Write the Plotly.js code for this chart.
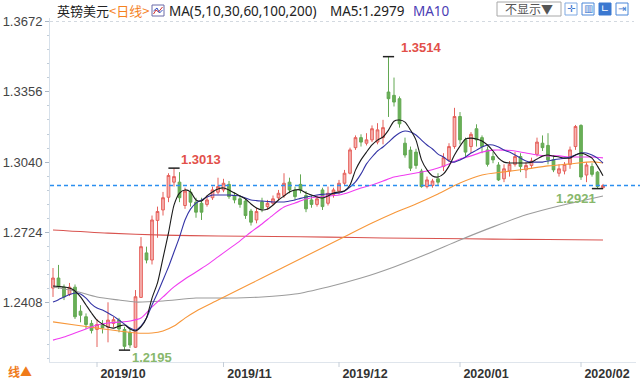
<!DOCTYPE html>
<html><head><meta charset="utf-8">
<script src="https://cdn.plot.ly/plotly-3.0.1.min.js"></script>
<style>html,body{margin:0;padding:0;background:#fff}#chart{width:640px;height:380px}</style>
</head><body><div id="chart"></div>
<script>
// ---- data ----
const dates = [
 '2019-09-19','2019-09-20','2019-09-23','2019-09-24','2019-09-25','2019-09-26','2019-09-27','2019-09-30',
 '2019-10-01','2019-10-02','2019-10-03','2019-10-04','2019-10-07','2019-10-08','2019-10-09','2019-10-10','2019-10-11','2019-10-14','2019-10-15','2019-10-16','2019-10-17','2019-10-18','2019-10-21','2019-10-22','2019-10-23','2019-10-24','2019-10-25','2019-10-28','2019-10-29','2019-10-30','2019-10-31',
 '2019-11-01','2019-11-04','2019-11-05','2019-11-06','2019-11-07','2019-11-08','2019-11-11','2019-11-12','2019-11-13','2019-11-14','2019-11-15','2019-11-18','2019-11-19','2019-11-20','2019-11-21','2019-11-22','2019-11-25','2019-11-26','2019-11-27','2019-11-28','2019-11-29',
 '2019-12-02','2019-12-03','2019-12-04','2019-12-05','2019-12-06','2019-12-09','2019-12-10','2019-12-11','2019-12-12','2019-12-13','2019-12-16','2019-12-17','2019-12-18','2019-12-19','2019-12-20','2019-12-23','2019-12-24','2019-12-25','2019-12-26','2019-12-27','2019-12-30','2019-12-31',
 '2020-01-02','2020-01-03','2020-01-06','2020-01-07','2020-01-08','2020-01-09','2020-01-10','2020-01-13','2020-01-14','2020-01-15','2020-01-16','2020-01-17','2020-01-20','2020-01-21','2020-01-22','2020-01-23','2020-01-24','2020-01-27','2020-01-28','2020-01-29','2020-01-30','2020-01-31',
 '2020-02-03','2020-02-04','2020-02-05','2020-02-06','2020-02-07'];

const open = [1.2474,1.2519,1.2478,1.2445,1.2478,1.2370,1.2345,1.2315,1.2288,1.2312,
 1.2298,1.2315,1.2330,1.2288,1.2275,1.2208,1.2432,1.2632,1.2600,1.2778,
 1.2825,1.2882,1.2950,1.2950,1.2845,1.2905,1.2860,1.2855,1.2850,1.2880,
 1.2905,1.2915,1.2940,1.2890,1.2875,1.2865,1.2820,1.2780,1.2862,1.2840,
 1.2855,1.2880,1.2890,1.2950,1.2915,1.2940,1.2890,1.2870,1.2850,1.2915,
 1.2855,1.2895,1.2910,1.2945,1.2990,1.3105,1.3150,1.3125,1.3140,1.3130,
 1.3150,1.3355,1.3340,1.3325,1.3125,1.3094,1.3085,1.3000,1.2930,1.2935,
 1.2965,1.3020,1.3050,1.3110,1.3245,1.3140,1.3110,1.3190,1.3150,1.3095,
 1.3065,1.3027,1.2965,1.3000,1.3030,1.3065,1.3005,1.3025,1.3075,1.3125,
 1.3115,1.3050,1.2990,1.3000,1.3030,1.3110,1.3205,1.2982,1.3020,1.2995,
 1.2925];
const high = [1.2564,1.2578,1.2490,1.2497,1.2490,1.2397,1.2360,1.2330,1.2335,1.2330,
 1.2410,1.2345,1.2340,1.2300,1.2290,1.2465,1.2703,1.2660,1.2800,1.2840,
 1.2906,1.2990,1.3013,1.2995,1.2925,1.2920,1.2880,1.2880,1.2890,1.2930,
 1.2970,1.2965,1.2955,1.2905,1.2890,1.2875,1.2830,1.2835,1.2880,1.2870,
 1.2890,1.2915,1.2990,1.2970,1.2930,1.2985,1.2910,1.2890,1.2890,1.2925,
 1.2930,1.2925,1.2960,1.3005,1.3105,1.3160,1.3165,1.3170,1.3205,1.3215,
 1.3230,1.3514,1.3420,1.3335,1.3150,1.3110,1.3100,1.3010,1.2975,1.2965,
 1.2990,1.3080,1.3125,1.3284,1.3265,1.3150,1.3175,1.3210,1.3160,1.3110,
 1.3085,1.3040,1.3030,1.3045,1.3085,1.3080,1.3040,1.3060,1.3150,1.3160,
 1.3170,1.3070,1.3030,1.3040,1.3110,1.3207,1.3210,1.3040,1.3035,1.3000,
 1.2942];
const low = [1.2434,1.2470,1.2420,1.2438,1.2335,1.2320,1.2290,1.2270,1.2209,1.2270,
 1.2230,1.2298,1.2275,1.2195,1.2205,1.2205,1.2430,1.2585,1.2580,1.2700,
 1.2800,1.2860,1.2930,1.2860,1.2830,1.2840,1.2790,1.2780,1.2840,1.2870,
 1.2895,1.2905,1.2875,1.2855,1.2835,1.2785,1.2755,1.2765,1.2815,1.2825,
 1.2845,1.2870,1.2880,1.2900,1.2870,1.2900,1.2815,1.2835,1.2840,1.2825,
 1.2845,1.2880,1.2895,1.2935,1.2985,1.3095,1.3110,1.3115,1.3130,1.3120,
 1.3120,1.3243,1.3290,1.3195,1.3060,1.3000,1.3010,1.2925,1.2922,1.2925,
 1.2935,1.3000,1.3040,1.3100,1.3120,1.3060,1.3080,1.3110,1.3080,1.3020,
 1.3035,1.2955,1.2950,1.2975,1.3020,1.2995,1.2968,1.3010,1.3065,1.3090,
 1.3030,1.2995,1.2975,1.2985,1.3010,1.3095,1.2960,1.2950,1.2975,1.2921,
 1.2922];
const close = [1.2519,1.2480,1.2434,1.2478,1.2345,1.2352,1.2310,1.2283,1.2310,1.2295,
 1.2330,1.2332,1.2290,1.2212,1.2218,1.2435,1.2660,1.2600,1.2780,1.2818,
 1.2880,1.2980,1.2975,1.2880,1.2910,1.2860,1.2815,1.2815,1.2870,1.2915,
 1.2930,1.2945,1.2885,1.2870,1.2850,1.2800,1.2770,1.2818,1.2830,1.2855,
 1.2875,1.2900,1.2945,1.2915,1.2885,1.2915,1.2830,1.2850,1.2875,1.2840,
 1.2900,1.2915,1.2945,1.2990,1.3095,1.3150,1.3130,1.3140,1.3190,1.3185,
 1.3195,1.3325,1.3310,1.3212,1.3072,1.3013,1.3025,1.2930,1.2960,1.2955,
 1.2950,1.3060,1.3110,1.3245,1.3140,1.3085,1.3165,1.3140,1.3110,1.3030,
 1.3050,1.2960,1.3010,1.3030,1.3065,1.3020,1.3025,1.3045,1.3130,1.3105,
 1.3050,1.3005,1.3010,1.3030,1.3095,1.3200,1.2973,1.3027,1.2985,1.2930,
 1.2935];

const ma5 = [1.2483,1.2481,1.2479,1.2474,1.2461,1.2434,1.2398,1.2362,1.2330,1.2312,
 1.2299,1.2294,1.2303,1.2308,1.2290,1.2281,1.2299,1.2339,1.2429,1.2497,
 1.2609,1.2722,1.2847,1.2901,1.2915,1.2906,1.2870,1.2865,1.2888,1.2906,
 1.2919,1.2924,1.2915,1.2901,1.2888,1.2874,1.2852,1.2834,1.2825,1.2829,
 1.2847,1.2870,1.2888,1.2906,1.2915,1.2915,1.2901,1.2892,1.2883,1.2879,
 1.2888,1.2901,1.2906,1.2910,1.2937,1.3004,1.3050,1.3085,1.3117,1.3139,
 1.3153,1.3184,1.3224,1.3229,1.3220,1.3184,1.3139,1.3050,1.3005,1.2978,
 1.2973,1.2987,1.3022,1.3072,1.3112,1.3144,1.3148,1.3144,1.3135,1.3117,
 1.3090,1.3058,1.3040,1.3036,1.3036,1.3036,1.3036,1.3040,1.3054,1.3067,
 1.3072,1.3067,1.3063,1.3058,1.3058,1.3072,1.3081,1.3072,1.3058,1.3022,
 1.2979];
const ma10 = [1.2411,1.2422,1.2434,1.2445,1.2452,1.2447,1.2429,1.2402,1.2384,1.2375,
 1.2362,1.2348,1.2330,1.2312,1.2294,1.2285,1.2303,1.2339,1.2398,1.2452,
 1.2510,1.2569,1.2636,1.2703,1.2780,1.2829,1.2856,1.2870,1.2883,1.2892,
 1.2892,1.2892,1.2892,1.2890,1.2888,1.2879,1.2870,1.2867,1.2865,1.2863,
 1.2861,1.2861,1.2861,1.2865,1.2870,1.2877,1.2883,1.2888,1.2892,1.2895,
 1.2897,1.2899,1.2901,1.2910,1.2928,1.2951,1.2987,1.3032,1.3063,1.3090,
 1.3108,1.3130,1.3153,1.3171,1.3180,1.3175,1.3162,1.3139,1.3117,1.3099,
 1.3076,1.3063,1.3045,1.3040,1.3050,1.3063,1.3081,1.3094,1.3108,1.3117,
 1.3117,1.3108,1.3094,1.3085,1.3072,1.3058,1.3045,1.3040,1.3040,1.3040,
 1.3045,1.3050,1.3054,1.3058,1.3063,1.3072,1.3081,1.3081,1.3072,1.3058,
 1.3036];
const _ = null;
const ma30 = [1.2240,_,1.2254,_,1.2272,_,1.2290,_,1.2308,_,
 1.2317,_,1.2321,_,1.2326,_,1.2339,_,1.2389,_,
 1.2434,_,1.2479,_,1.2515,_,1.2546,_,1.2578,_,
 1.2614,_,1.2650,_,1.2686,_,1.2726,_,1.2762,_,
 1.2802,_,1.2838,_,1.2856,_,1.2874,_,1.2883,_,
 1.2888,_,1.2892,_,1.2906,_,1.2924,_,1.2937,_,
 1.2955,_,1.2973,_,1.2982,_,1.2991,_,1.3000,_,
 1.3014,_,1.3032,_,1.3054,_,1.3068,_,1.3085,_,
 1.3094,_,1.3094,_,1.3090,_,1.3081,_,1.3072,_,
 1.3068,_,1.3068,_,1.3063,_,1.3063,_,1.3063,_,
 1.3059];
const ma60 = [1.2322,_,_,_,1.2308,_,_,_,1.2294,_,
 _,_,1.2281,_,_,1.2272,_,_,1.2272,_,
 1.2281,_,1.2303,_,1.2339,_,1.2370,_,_,_,
 1.2420,_,_,_,1.2470,_,_,_,1.2519,_,
 _,_,1.2569,_,_,_,1.2618,_,_,_,
 1.2667,_,_,_,1.2717,_,_,_,1.2766,_,
 _,_,1.2811,_,_,_,1.2852,_,_,_,
 1.2897,_,_,_,1.2946,_,_,_,1.2982,_,
 _,_,1.2996,_,_,_,1.3009,_,_,_,
 1.3023,_,_,_,1.3032,_,_,_,1.3041,_,
 1.3036];
const ma100 = [1.2479,_,_,_,1.2461,_,_,_,1.2434,_,
 _,_,1.2420,_,_,1.2411,_,_,_,_,
 1.2416,_,_,_,_,_,1.2429,_,_,_,
 _,_,1.2429,_,_,_,_,_,1.2434,_,
 _,_,_,_,1.2447,_,_,_,_,_,
 1.2479,_,_,_,_,_,1.2519,_,_,_,
 _,_,1.2569,_,_,_,_,_,1.2627,_,
 _,_,_,_,1.2690,_,_,_,_,_,
 1.2749,_,_,_,_,_,1.2803,_,_,_,
 _,_,1.2843,_,_,_,1.2865,_,_,_,
 1.2888];
const ma200 = [1.2735,_,_,_,_,_,_,_,_,_,
 1.2721,_,_,_,_,_,_,_,_,_,
 1.2712,_,_,_,_,_,_,_,_,_,
 1.2708,_,_,_,_,_,_,_,_,_,
 1.2706,_,_,_,_,_,_,_,_,_,
 1.2703,_,_,_,_,_,_,_,_,_,
 1.2699,_,_,_,_,_,_,_,_,_,
 1.2697,_,_,_,_,_,_,_,_,_,
 1.2694,_,_,_,_,_,_,_,_,_,
 1.2692,_,_,_,_,_,_,_,_,_,
 1.2690];

const yTick0 = 1.2408, yTickStep = 0.0316;           // 1.2408 ... 1.3672
const xTickDates = ['2019-10-01','2019-11-01','2019-12-02','2020-01-02','2020-02-03'];
const xTickText  = ['2019/10','2019/11','2019/12','2020/01','2020/02'];
const markDates = ['2019-10-21','2019-12-13','2019-10-08','2020-02-06'];
const markKinds = ['high','high','low','low'];
const legendMA5 = 'MA5:1.2979';

// ---- layout geometry ----
const L=50, R=636, T=18, B=362, W=R-L, H=B-T;
const px = x => (x-L)/W;
const py = y => (B-y)/H;

const ma = (y, color, name) => ({type:'scatter', mode:'lines', x:dates, y:y, connectgaps:true,
  line:{color:color, width:1.1, shape:'spline', smoothing:0.7}, hoverinfo:'skip', showlegend:false, name:name});

const traces = [
  {type:'candlestick', x:dates, open:open, high:high, low:low, close:close,
   increasing:{line:{color:'#e5605b', width:1}, fillcolor:'rgba(245,172,168,0.9)'},
   decreasing:{line:{color:'#62a852', width:1}, fillcolor:'#69b058'},
   whiskerwidth:0, hoverinfo:'skip', showlegend:false},
  ma(ma200,'#d9534f','MA200'),
  ma(ma100,'#9c9c9c','MA100'),
  ma(ma60,'#f7973a','MA60'),
  ma(ma30,'#f03cf0','MA30'),
  ma(ma10,'#3434a6','MA10'),
  ma(ma5,'#1a1a1a','MA5')
];

const mx=[], my=[];
const anns = [];
markDates.forEach((d,k)=>{
  const i = dates.indexOf(d);
  const v = markKinds[k]==='high' ? high[i] : low[i];
  mx.push(d); my.push(v);
});
traces.push({type:'scatter', mode:'markers', x:mx, y:my, hoverinfo:'skip', showlegend:false,
  marker:{symbol:'line-ew', size:8, line:{width:1.5, color:'#222'}}});

const markStyle = [
  {xa:'left', xs:5, ys:9, c:'#e2504a'},
  {xa:'left', xs:10, ys:9, c:'#e2504a'},
  {xa:'left', xs:5, ys:-7, c:'#88b86c'},
  {xa:'right', xs:0, ys:-10, c:'#88b86c'}
];
mx.forEach((d,k)=>{
  const s = markStyle[k];
  anns.push({xref:'x', yref:'y', x:d, y:my[k], text:my[k].toFixed(4), showarrow:false,
    xanchor:s.xa, yanchor:'middle', xshift:s.xs, yshift:s.ys,
    font:{family:'Liberation Sans, Arial', size:13, color:s.c, weight:'bold'}});
});

const lastClose = close[close.length-1];

// header row
const hy = py(11);
const hdr = (x, text, color, size, fam) => ({xref:'paper', yref:'paper', x:px(x), y:hy, xanchor:'left', yanchor:'middle',
  text:text, showarrow:false, font:{family:fam||'Noto Sans CJK SC', size:size||13, color:color}});
anns.push(hdr(55,'英镑美元','#222',13));
anns.push(hdr(107,'&lt;日线&gt;','#f5821f',13));
anns.push(hdr(167,'MA(5,10,30,60,100,200)','#222',13.5,'Noto Sans'));
anns.push(hdr(328,legendMA5,'#222',13.5,'Noto Sans'));
anns.push(hdr(411,'MA10','#4a3cb4',13.5,'Noto Sans'));
anns.push({xref:'paper', yref:'paper', x:px(529), y:py(9), xanchor:'center', yanchor:'middle', text:'不显示▼',
  showarrow:false, font:{family:'Noto Sans CJK SC', size:12, color:'#555'}});
anns.push({xref:'paper', yref:'paper', x:px(6), y:py(371), xanchor:'left', yanchor:'middle', text:'线▲',
  showarrow:false, font:{family:'Noto Sans CJK SC', size:12, color:'#f07b1a', weight:'bold'}});

// icon glyphs
const icons = [[565,'#ffffff','#7ea9e2','✛','#3b78d0'],[582,'#ffffff','#4a86d8','▥','#3b78d0'],
               [599,'#3b78d0','#3b78d0','∟','#ffffff'],[616,'#ffffff','#4a86d8','⇥','#3b78d0']];
const shapes = [
  {type:'line', xref:'paper', yref:'y', x0:0, x1:px(640), y0:lastClose, y1:lastClose,
   line:{color:'#2b8ff0', width:1.5, dash:'4px,3px'}},
  {type:'line', xref:'paper', yref:'y', x0:0, x1:px(634), y0:1.3672, y1:1.3672,
   line:{color:'#d3d9e0', width:1, dash:'dot'}},
  {type:'rect', xref:'paper', yref:'paper', x0:px(497), x1:px(561), y0:py(16), y1:py(2),
   line:{color:'#a8a8a8', width:1}, fillcolor:'#fff'},
  {type:'rect', xref:'paper', yref:'paper', x0:px(152), x1:px(164), y0:py(16), y1:py(5),
   line:{color:'#6a6aa8', width:1}, fillcolor:'#fff'},
  {type:'path', xref:'paper', yref:'paper',
   path:`M ${px(153.5)} ${py(14)} L ${px(156)} ${py(10)} L ${px(158.5)} ${py(12)} L ${px(162.5)} ${py(7)}`,
   line:{color:'#d03030', width:1}},
  {type:'path', xref:'paper', yref:'paper',
   path:`M ${px(153.5)} ${py(11)} L ${px(157)} ${py(8)} L ${px(159.5)} ${py(13)} L ${px(162.5)} ${py(10)}`,
   line:{color:'#3050c0', width:1}}
];
// month tick marks below the axis line
xTickDates.forEach(d=>{
  shapes.push({type:'line', xref:'x', yref:'paper', x0:d, x1:d, y0:py(362), y1:py(367),
    line:{color:'#c5ced8', width:1}});
});
icons.forEach(ic=>{
  shapes.push({type:'rect', xref:'paper', yref:'paper', x0:px(ic[0]), x1:px(ic[0]+12), y0:py(15), y1:py(3),
    line:{color:ic[2], width:1}, fillcolor:ic[1]});
  anns.push({xref:'paper', yref:'paper', x:px(ic[0]+6), y:py(9), xanchor:'center', yanchor:'middle', text:ic[3],
    showarrow:false, font:{family:'DejaVu Sans', size:10, color:ic[4]}});
});

const layout = {
  width:640, height:380, margin:{l:L, r:640-R, t:T, b:380-B},
  paper_bgcolor:'#fff', plot_bgcolor:'#fff', showlegend:false, dragmode:false,
  xaxis:{type:'category', categoryorder:'array', categoryarray:dates, range:[-(53-L)/5.5, (R-53)/5.5],
    rangeslider:{visible:false}, tickmode:'array', tickvals:xTickDates, ticktext:xTickText,
    ticks:'', showgrid:false, zeroline:false,
    showline:true, linecolor:'#dfe5ec', linewidth:1, ticklabelshift:26,
    tickfont:{family:'Liberation Sans, Arial', size:12.5, color:'#333', weight:'bold'}, fixedrange:true},
  yaxis:{range:[1.3672-(B-21.5)/2225, 1.3672+(21.5-T)/2225], tickmode:'linear', tick0:yTick0, dtick:yTickStep,
    tickformat:'.4f', ticks:'outside', ticklen:4, tickcolor:'#a9b7c6', showgrid:false, zeroline:false,
    showline:true, linecolor:'#d6e0ea', linewidth:1,
    minor:{ticks:'outside', ticklen:2, tickcolor:'#c2cdd8', dtick:yTickStep/5, tick0:yTick0, showgrid:false},
    tickfont:{family:'Liberation Sans, Arial', size:13, color:'#444'}, fixedrange:true},
  shapes:shapes, annotations:anns
};

Plotly.newPlot('chart', traces, layout, {displayModeBar:false, staticPlot:true});
</script></body></html>
